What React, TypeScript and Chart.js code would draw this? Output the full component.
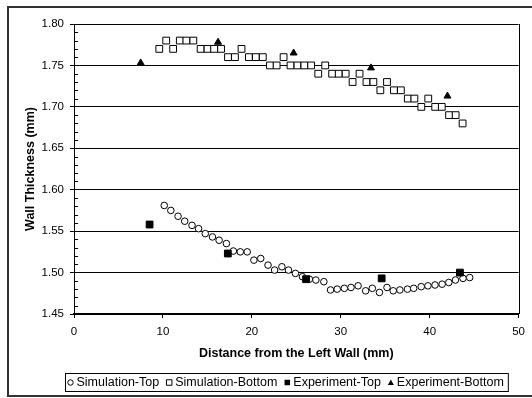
import React, { useEffect, useRef } from 'react';
import { Chart, registerables } from 'chart.js';

Chart.register(...registerables);

const FONT = '"Liberation Sans", Arial, sans-serif';

const seriesLabels = ['Simulation-Top', 'Simulation-Bottom', 'Experiment-Top', 'Experiment-Bottom'];

const simTopX = [10.15, 10.89, 11.7, 12.45, 13.27, 14.01, 14.76, 15.57, 16.32, 17.14, 17.92, 18.7, 19.48, 20.23, 21.0, 21.82, 22.56, 23.38, 24.12, 24.9, 25.69, 26.47, 27.2, 28.1, 28.85, 29.6, 30.4, 31.15, 31.95, 32.8, 33.55, 34.35, 35.2, 35.9, 36.65, 37.5, 38.2, 39.05, 39.8, 40.6, 41.4, 42.15, 42.9, 43.75, 44.5];
const simTopY = [1.581, 1.575, 1.568, 1.562, 1.557, 1.553, 1.547, 1.543, 1.539, 1.535, 1.526, 1.525, 1.525, 1.515, 1.517, 1.509, 1.503, 1.507, 1.503, 1.499, 1.495, 1.492, 1.491, 1.489, 1.479, 1.48, 1.481, 1.482, 1.484, 1.478, 1.481, 1.476, 1.482, 1.478, 1.479, 1.48, 1.481, 1.483, 1.484, 1.485, 1.486, 1.488, 1.491, 1.493, 1.494];

const simBottomX = [9.59, 10.37, 11.15, 11.9, 12.64, 13.42, 14.24, 15.02, 15.76, 16.54, 17.32, 18.1, 18.84, 19.67, 20.45, 21.23, 22.04, 22.79, 23.57, 24.35, 25.13, 25.91, 26.67, 27.47, 28.25, 29.03, 29.77, 30.55, 31.33, 32.11, 32.89, 33.67, 34.45, 35.2, 35.98, 36.76, 37.54, 38.28, 39.06, 39.84, 40.62, 41.36, 42.18, 42.92, 43.7];
const simBottomY = [1.77, 1.78, 1.77, 1.78, 1.78, 1.78, 1.77, 1.77, 1.77, 1.77, 1.76, 1.76, 1.77, 1.76, 1.76, 1.76, 1.75, 1.75, 1.76, 1.75, 1.75, 1.75, 1.75, 1.74, 1.75, 1.74, 1.74, 1.74, 1.73, 1.74, 1.73, 1.73, 1.72, 1.73, 1.72, 1.72, 1.71, 1.71, 1.70, 1.71, 1.70, 1.70, 1.69, 1.69, 1.68];

const expTopX = [8.5, 17.3, 26.1, 34.6, 43.4];
const expTopY = [1.558, 1.523, 1.492, 1.493, 1.5];

const expBottomX = [7.5, 16.2, 24.7, 33.4, 42.0];
const expBottomY = [1.753, 1.778, 1.765, 1.747, 1.713];

const xMin = 0;
const xMax = 50;
const xStep = 10;
const yMin = 1.45;
const yMax = 1.8;
const yStep = 0.05;
const yMinorStep = 0.01;

const xTitle = 'Distance from the Left Wall (mm)';
const yTitle = 'Wall Thickness (mm)';

const pts = (xs: number[], ys: number[]) => xs.map((x, i) => ({ x, y: ys[i] }));

function drawMarker(ctx: CanvasRenderingContext2D, style: string, filled: boolean, x: number, y: number, s: number) {
  ctx.beginPath();
  if (style === 'circle') {
    ctx.arc(x, y, s / 2, 0, Math.PI * 2);
  } else if (style === 'rect') {
    ctx.rect(x - s / 2, y - s / 2, s, s);
  } else {
    ctx.moveTo(x, y - s / 2 - 0.5);
    ctx.lineTo(x + s / 2 + 0.5, y + s / 2);
    ctx.lineTo(x - s / 2 - 0.5, y + s / 2);
    ctx.closePath();
  }
  if (filled) {
    ctx.fillStyle = '#000';
    ctx.fill();
  } else {
    ctx.fillStyle = '#fff';
    ctx.fill();
    ctx.lineWidth = 1;
    ctx.strokeStyle = '#000';
    ctx.stroke();
  }
}

const decorPlugin = {
  id: 'decor',
  afterDraw(chart: any) {
    const { ctx, chartArea: ca, scales } = chart;
    const ys = scales.y;
    ctx.save();
    ctx.strokeStyle = '#000';
    ctx.lineWidth = 1;
    // minor ticks on y axis (inside)
    ctx.beginPath();
    const nMinor = Math.round((yMax - yMin) / yMinorStep);
    const per = Math.round(yStep / yMinorStep);
    for (let i = 0; i <= nMinor; i++) {
      if (i % per === 0) continue;
      const v = yMin + i * yMinorStep;
      const py = Math.round(ys.getPixelForValue(v)) + 0.5;
      ctx.moveTo(ca.left, py);
      ctx.lineTo(ca.left + 4, py);
    }
    ctx.stroke();
    // right border of plot area
    const rx = Math.round(ca.right) + 0.5;
    ctx.beginPath();
    ctx.moveTo(rx, Math.round(ca.top));
    ctx.lineTo(rx, Math.round(ca.bottom));
    ctx.stroke();
    // outer chart border
    ctx.lineWidth = 2;
    ctx.strokeStyle = '#333';
    ctx.strokeRect(8, 7, 540, 389);

    // legend
    ctx.font = `12.5px ${FONT}`;
    ctx.textBaseline = 'middle';
    ctx.textAlign = 'left';
    const cy = 382.5;
    const boxLeft = 65;
    let x = boxLeft + 5.5;
    const ds = chart.data.datasets;
    for (let i = 0; i < ds.length; i++) {
      const d = ds[i];
      const filled = d.backgroundColor === '#000';
      drawMarker(ctx, d.pointStyle, filled, x, cy, d.pointStyle === 'triangle' ? 5 : 5.5);
      const tx = x + 6;
      ctx.fillStyle = '#000';
      ctx.fillText(d.label, tx, cy + 0.5);
      const w = ctx.measureText(d.label).width;
      x = tx + w + 10;
    }
    const boxRight = x - 6;
    ctx.lineWidth = 1;
    ctx.strokeStyle = '#000';
    ctx.strokeRect(boxLeft + 0.5, 373.5, boxRight - boxLeft, 18);
    ctx.restore();
  },
};

export default function App() {
  const ref = useRef<HTMLCanvasElement | null>(null);
  useEffect(() => {
    if (!ref.current) return;
    const chart = new Chart(ref.current, {
      type: 'scatter',
      data: {
        datasets: [
          {
            label: seriesLabels[0],
            data: pts(simTopX, simTopY),
            pointStyle: 'circle',
            pointRadius: 3.3,
            backgroundColor: '#fff',
            borderColor: '#000',
            borderWidth: 1,
            order: 2,
          },
          {
            label: seriesLabels[1],
            data: pts(simBottomX, simBottomY),
            pointStyle: 'rect',
            pointRadius: 4.8,
            backgroundColor: '#fff',
            borderColor: '#000',
            borderWidth: 1,
            order: 2,
          },
          {
            label: seriesLabels[2],
            data: pts(expTopX, expTopY),
            pointStyle: 'rect',
            pointRadius: 4.8,
            backgroundColor: '#000',
            borderColor: '#000',
            borderWidth: 1,
            order: 1,
          },
          {
            label: seriesLabels[3],
            data: pts(expBottomX, expBottomY),
            pointStyle: 'triangle',
            pointRadius: 4,
            backgroundColor: '#000',
            borderColor: '#000',
            borderWidth: 1,
            order: 1,
          },
        ],
      },
      options: {
        animation: false,
        responsive: false,
        devicePixelRatio: 1,
        layout: { padding: { left: 8, right: 9, top: 24, bottom: 37 } },
        plugins: { legend: { display: false }, tooltip: { enabled: false } },
        scales: {
          x: {
            type: 'linear',
            min: xMin,
            max: xMax,
            ticks: { stepSize: xStep, color: '#000', font: { size: 11.5, family: FONT }, padding: 7, maxRotation: 0 },
            grid: { drawOnChartArea: false, drawTicks: true, tickLength: 4, color: '#000' },
            border: { display: true, color: '#000', width: 2 },
            title: { display: true, text: xTitle, color: '#000', font: { size: 12.5, weight: 'bold', family: FONT }, padding: 0 },
            afterFit: (s: any) => {
              s.height = 47;
            },
          },
          y: {
            type: 'linear',
            min: yMin,
            max: yMax,
            ticks: {
              stepSize: yStep,
              color: '#000',
              font: { size: 11.5, family: FONT },
              padding: 6,
              callback: (v: any) => Number(v).toFixed(2),
            },
            grid: { color: '#000', tickLength: 4, drawTicks: true },
            border: { display: true, color: '#000', width: 1 },
            title: { display: true, text: yTitle, color: '#000', font: { size: 12.5, weight: 'bold', family: FONT }, padding: { top: 15, bottom: 0 } },
            afterFit: (s: any) => {
              s.width = 66;
            },
          },
        },
      } as any,
      plugins: [decorPlugin],
    });
    return () => chart.destroy();
  }, []);
  return (
    <div style={{ position: 'absolute', left: 0, top: 0, width: 532, height: 398, background: '#fff' }}>
      <canvas ref={ref} width={532} height={398} style={{ display: 'block' }} />
    </div>
  );
}
